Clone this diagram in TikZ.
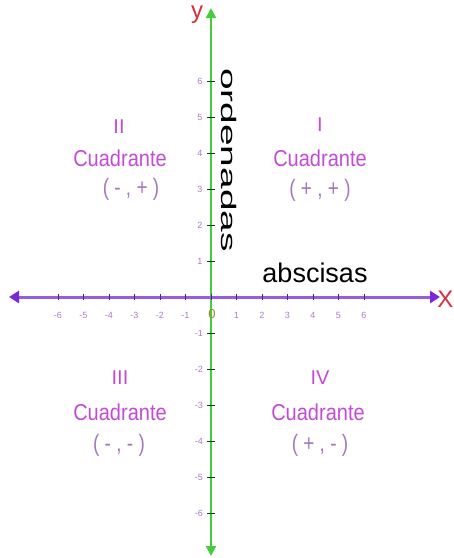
\documentclass[tikz,border=0pt]{standalone}
\usepackage{fontspec}
\setmainfont{Liberation Sans}
\usetikzlibrary{arrows.meta}
\definecolor{xaxc}{RGB}{150,95,215}
\definecolor{xtipc}{RGB}{120,40,220}
\definecolor{yaxc}{RGB}{70,205,60}
\definecolor{quadc}{RGB}{195,75,215}
\definecolor{numc}{RGB}{175,120,205}
\definecolor{lblred}{RGB}{215,45,60}
\definecolor{zeroc}{RGB}{150,140,40}
\begin{document}
\begin{tikzpicture}[x=1pt,y=-1pt,
  quad/.style={text=quadc, font=\fontsize{20}{20}\selectfont, inner sep=0pt},
  parens/.style={text=numc!80!gray, font=\fontsize{19}{19}\selectfont, inner sep=0pt},
  tnum/.style={text=numc, font=\fontsize{9}{9}\selectfont, inner sep=0pt},
  xaxis/.style={draw=xaxc, line width=3pt, {Triangle[length=10pt,width=12pt,color=xtipc]}-{Triangle[length=10pt,width=12pt,color=xtipc]}},
  yaxis/.style={draw=yaxc, line width=2pt, {Triangle[length=10pt,width=10pt]}-{Triangle[length=10pt,width=10pt]}},
  ytick/.style={draw=black!70!green, line width=1pt},
  xtick/.style={draw=xtipc!70!black, line width=0.6pt}
]
\useasboundingbox (0,0) rectangle (454,558);
\fill[white] (0,0) rectangle (454,558);

% axes
\coordinate (xl) at (9,297);
\coordinate (xr) at (440,297);
\coordinate (yt) at (211,8);
\coordinate (yb) at (211,556);
\draw[yaxis] (yb) -- (yt);
\draw[xaxis] (xl) -- (xr);

% x ticks and labels
\foreach \i in {-6,...,6}{
  \draw[xtick] ({211+25.5*\i},294) -- ({211+25.5*\i},300);
}
\foreach \i in {-6,...,-1,1,2,3,4,5,6}{
  \node[tnum] (xn\i) at ({211+25.5*\i},315) {\i};
}
\node[text=zeroc, font=\fontsize{13}{13}\selectfont, inner sep=0pt] (zero) at (212,314) {0};

% y ticks and labels
\foreach \i in {1,...,6}{
  \draw[ytick] (207,{297-36*\i}) -- (215,{297-36*\i});
  \draw[ytick] (207,{297+36*\i}) -- (215,{297+36*\i});
  \node[tnum] (yp\i) at (200,{297-36*\i}) {\i};
  \node[tnum] (ym\i) at (199,{297+36*\i}) {-\i};
}

% axis labels
\node[text=lblred, font=\fontsize{24}{24}\selectfont, inner sep=0pt] (ylab) at (197,15) {y};
\node[text=lblred, font=\fontsize{24}{24}\selectfont, inner sep=0pt] (xlab) at (445.5,299) {X};

\node[text=black, font=\fontsize{27}{27}\selectfont, inner sep=0pt] (absc) at (315,273) {abscisas};
\node[text=black, font=\fontsize{21}{21}\selectfont, inner sep=0pt, rotate=-90] (orde) at (229,160) {\scalebox{1.85}[1]{ordenadas}};

% quadrants
\node[quad] (q2n) at (119,127) {II};
\node[quad] (q2c) at (120,158) {\scalebox{1}[1.15]{Cuadrante}};
\node[parens] (q2p) at (131,189) {\scalebox{1}[1.25]{( - , + )}};

\node[quad] (q1n) at (320,125) {I};
\node[quad] (q1c) at (320,158) {\scalebox{1}[1.15]{Cuadrante}};
\node[parens] (q1p) at (320,190) {\scalebox{1}[1.25]{( + , + )}};

\node[quad] (q3n) at (120,378) {III};
\node[quad] (q3c) at (120,412) {\scalebox{1}[1.15]{Cuadrante}};
\node[parens] (q3p) at (119,445) {\scalebox{1}[1.25]{( - , - )}};

\node[quad] (q4n) at (320,378) {IV};
\node[quad] (q4c) at (318,412) {\scalebox{1}[1.15]{Cuadrante}};
\node[parens] (q4p) at (320,445) {\scalebox{1}[1.25]{( + , - )}};
\end{tikzpicture}
\end{document}
